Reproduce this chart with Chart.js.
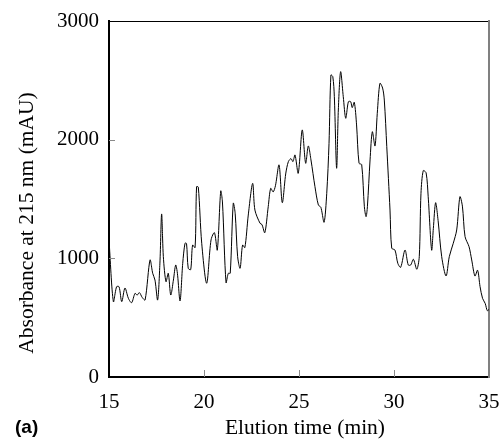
<!DOCTYPE html>
<html>
<head>
<meta charset="utf-8">
<script src="https://cdn.jsdelivr.net/npm/chart.js@4"></script>
<style>
  html, body { margin: 0; padding: 0; background: #fff; }
  #wrap { width: 502px; height: 442px; position: relative; }
</style>
</head>
<body>
<div id="wrap"><canvas id="chart" width="502" height="442"></canvas></div>
<script>
// elution time (min) and absorbance (mAU)
const times = [15, 15.23, 15.4, 15.53, 15.67, 15.84, 16.02, 16.19, 16.37, 16.48, 16.6, 16.75, 16.9,
  17.16, 17.3, 17.42, 17.56, 17.68, 17.77, 17.86, 18.0, 18.12, 18.25, 18.39, 18.51, 18.6, 18.74,
  18.88, 19.0, 19.08, 19.17, 19.3, 19.4, 19.53, 19.61, 19.7, 19.88, 20.14, 20.37, 20.55, 20.7,
  20.88, 20.97, 21.16, 21.28, 21.38, 21.54, 21.64, 21.77, 21.9, 22.03, 22.15, 22.33, 22.56, 22.68,
  22.95, 23.05, 23.2, 23.38, 23.51, 23.64, 23.76, 23.95, 24.12, 24.3, 24.44, 24.58, 24.68, 24.79,
  24.96, 25.17, 25.35, 25.49, 25.63, 25.84, 26.02, 26.15, 26.32, 26.46, 26.58, 26.68, 26.78, 26.86,
  26.98, 27.07, 27.19, 27.33, 27.46, 27.6, 27.72, 27.8, 27.91, 28.03, 28.16, 28.3, 28.44, 28.53,
  28.6, 28.74, 28.86, 29.0, 29.12, 29.26, 29.4, 29.49, 29.62, 29.79, 29.88, 30.05, 30.2, 30.35,
  30.58, 30.75, 30.88, 31.02, 31.2, 31.33, 31.42, 31.54, 31.69, 31.8, 31.98, 32.07, 32.19, 32.32,
  32.51, 32.74, 32.91, 33.12, 33.3, 33.47, 33.6, 33.74, 33.95, 34.09, 34.26, 34.4, 34.53, 34.66,
  34.8, 34.91, 35];
const absorbance = [1155, 635, 761, 760, 635, 750, 663, 626, 705, 690, 711, 670, 649,
  986, 874, 817, 649, 960, 1374, 1014, 803, 874, 691, 817, 944, 874, 641,
  958, 1127, 1125, 916, 905, 1112, 1090, 1604, 1600, 1127, 790, 1155, 1216, 1070,
  1567, 1475, 795, 874, 874, 1464, 1380, 1014, 916, 1112, 1090, 1365, 1632, 1407,
  1295, 1285, 1216, 1435, 1590, 1560, 1612, 1787, 1469, 1711, 1815, 1840, 1815, 1871,
  1717, 2082, 1801, 1947, 1829, 1604, 1449, 1430, 1304, 1548, 1969, 2545, 2530, 2362,
  1759, 2250, 2573, 2362, 2180, 2320, 2320, 2270, 2315, 2124, 1801, 1790, 1435, 1351,
  1435, 1829, 2067, 1947, 2222, 2475, 2435, 2334, 1941, 1407, 1085, 1070, 958, 924,
  1070, 944, 944, 992, 908, 1014, 1548, 1739, 1720, 1519, 1070, 1250, 1469, 1320,
  1014, 851, 1014, 1127, 1239, 1519, 1440, 1183, 1098, 986, 851, 900, 761, 663,
  620, 559, 570];
const xTicks = [15, 20, 25, 30, 35];
const yTicks = [0, 1000, 2000, 3000];
const xTitle = 'Elution time (min)';
const yTitle = 'Absorbance at 215 nm (mAU)';
const panelLabel = '(a)';

const serif = '"Liberation Serif", "Times New Roman", serif';

const extras = {
  id: 'extras',
  afterDraw(chart) {
    const ctx = chart.ctx;
    const a = chart.chartArea;
    const L = Math.round(a.left), B = Math.round(a.bottom);
    ctx.save();
    // inward ticks
    ctx.fillStyle = '#8a8a8a';
    xTicks.slice(1, -1).forEach(v => {
      const px = Math.round(chart.scales.x.getPixelForValue(v));
      ctx.fillRect(px, B - 7, 1, 7);
    });
    yTicks.slice(1, -1).forEach(v => {
      const py = Math.round(chart.scales.y.getPixelForValue(v));
      ctx.fillRect(L, py, 6, 1);
    });
    // axis titles
    ctx.fillStyle = '#000';
    ctx.font = '21.5px ' + serif;
    ctx.textAlign = 'center';
    ctx.textBaseline = 'middle';
    ctx.fillText(xTitle, 305, 428);
    ctx.translate(27, 223);
    ctx.rotate(-Math.PI / 2);
    ctx.fillText(yTitle, 0, 0);
    ctx.setTransform(1, 0, 0, 1, 0, 0);
    // panel label
    ctx.font = 'bold 19px "Liberation Sans", Arial, sans-serif';
    ctx.textAlign = 'left';
    ctx.fillText(panelLabel, 15, 428);
    ctx.restore();
  }
};

new Chart(document.getElementById('chart'), {
  type: 'line',
  data: {
    datasets: [{
      data: times.map((t, i) => ({ x: t, y: absorbance[i] })),
      borderColor: '#000',
      borderWidth: 1,
      pointRadius: 0,
      tension: 0.3,
      fill: false
    }]
  },
  options: {
    responsive: false,
    animation: false,
    layout: { padding: { left: 0, right: 0, top: 21, bottom: 0 } },
    plugins: { legend: { display: false }, tooltip: { enabled: false } },
    scales: {
      x: {
        type: 'linear', min: 15, max: 35,
        afterBuildTicks: s => { s.ticks = xTicks.map(v => ({ value: v })); },
        afterFit: s => { s.height = 65; },
        grid: { display: false, drawTicks: true, tickLength: 11 },
        border: { display: true, color: '#000', width: 2 },
        ticks: { color: '#000', padding: 2, font: { family: serif, size: 21 }, callback: v => String(v) }
      },
      x2: {
        type: 'linear', position: 'top', min: 15, max: 35,
        afterFit: s => { s.height = 0; },
        grid: { display: false, drawTicks: false },
        border: { display: true, color: '#000', width: 1 },
        ticks: { display: false }
      },
      y: {
        min: 0, max: 3000,
        afterBuildTicks: s => { s.ticks = yTicks.map(v => ({ value: v })); },
        afterFit: s => { s.width = 109; },
        grid: { display: false, drawTicks: true, tickLength: 8 },
        border: { display: true, color: '#000', width: 2 },
        ticks: { color: '#000', padding: 2, font: { family: serif, size: 21 }, callback: v => String(v) }
      },
      y2: {
        position: 'right', min: 0, max: 3000,
        afterFit: s => { s.width = 13; },
        grid: { display: false, drawTicks: false },
        border: { display: true, color: '#808080', width: 2 },
        ticks: { display: false }
      }
    }
  },
  plugins: [extras]
});
</script>
</body>
</html>
